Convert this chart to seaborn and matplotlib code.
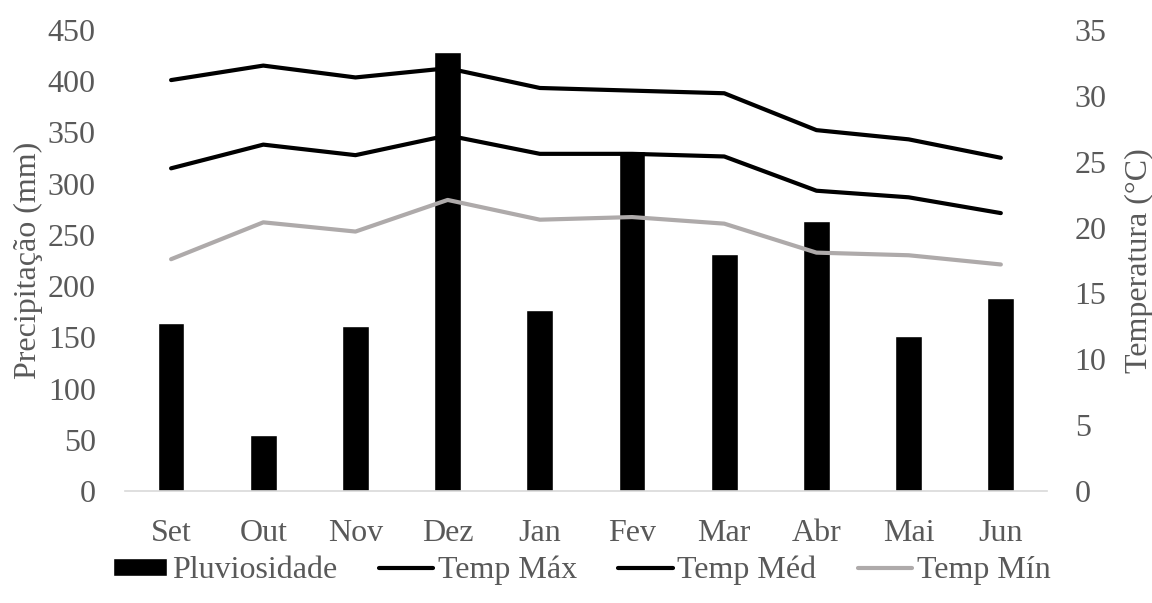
import numpy as np
import pandas as pd
import seaborn as sns
import matplotlib.pyplot as plt

# dados
meses = ['Set', 'Out', 'Nov', 'Dez', 'Jan', 'Fev', 'Mar', 'Abr', 'Mai', 'Jun']
pluviosidade = [164, 55, 161, 429, 177, 332, 231, 264, 151, 188]
temp_max = [31.2, 32.3, 31.4, 32.1, 30.6, 30.4, 30.2, 27.4, 26.7, 25.3]
temp_med = [24.5, 26.3, 25.5, 27.0, 25.6, 25.6, 25.4, 22.8, 22.3, 21.1]
temp_min = [17.6, 20.4, 19.7, 22.1, 20.6, 20.8, 20.3, 18.1, 17.9, 17.2]

cinza_txt = '#595959'
fs = 23

sns.set_style('white')
plt.rcParams['font.family'] = ['Liberation Serif', 'DejaVu Serif']
plt.rcParams['font.size'] = fs

df = pd.DataFrame({'mes': meses, 'Pluviosidade': pluviosidade,
                   'Temp Máx': temp_max, 'Temp Méd': temp_med, 'Temp Mín': temp_min})

fig = plt.figure(figsize=(11.52, 6.03), dpi=100)
ax = fig.add_axes([0.1085, 0.1857, 0.8003, 0.7645])

# barras de precipitacao
sns.barplot(data=df, x='mes', y='Pluviosidade', color='black', width=0.29,
            saturation=1, ax=ax, label='Pluviosidade')
ax.set_ylim(0, 450)
ax.set_yticks(range(0, 451, 50))
ax.set_xlim(-0.5, len(meses) - 0.5)
ax.set_ylabel('Precipitação (mm)', color=cinza_txt, fontsize=fs, labelpad=3.5)
ax.set_xlabel('')

# linhas de temperatura no eixo secundario
ax2 = ax.twinx()
estilos = [('Temp Máx', 'black'), ('Temp Méd', 'black'), ('Temp Mín', '#aeaaaa')]
for col, cor in estilos:
    sns.lineplot(data=df, x='mes', y=col, color=cor, lw=3, sort=False,
                 ax=ax2, label=col, solid_capstyle='round')
ax2.set_ylim(0, 35)
ax2.set_yticks(range(0, 36, 5))
ax2.set_ylabel('Temperatura (°C)', color=cinza_txt, fontsize=fs, labelpad=13)
ax2.set_xlim(-0.5, len(meses) - 0.5)

for a in (ax, ax2):
    for s in a.spines.values():
        s.set_visible(False)
ax.tick_params(axis='y', length=0, colors=cinza_txt, labelsize=fs, pad=21)
ax2.tick_params(axis='y', length=0, colors=cinza_txt, labelsize=fs, pad=20)

ax.spines['bottom'].set_visible(True)
ax.spines['bottom'].set_color('#d9d9d9')
ax.spines['bottom'].set_linewidth(1.2)
ax.set_xticks(np.arange(-0.5, len(meses), 1), minor=True)
ax.tick_params(axis='x', which='major', length=0, colors=cinza_txt, labelsize=fs, pad=20)
ax.tick_params(axis='x', which='minor', length=9, color='#d9d9d9', width=1.2)

h1, l1 = ax.get_legend_handles_labels()
h2, l2 = ax2.get_legend_handles_labels()
ax2.get_legend().remove()
if ax.get_legend():
    ax.get_legend().remove()
leg = fig.legend(h1 + h2, l1 + l2, loc='lower center', bbox_to_anchor=(0.505, -0.018),
                 ncol=4, frameon=False, fontsize=fs, handlelength=1.7,
                 handleheight=0.5, handletextpad=0.15, columnspacing=1.3)
for t in leg.get_texts():
    t.set_color(cinza_txt)

fig.savefig('out.png', dpi=100)
